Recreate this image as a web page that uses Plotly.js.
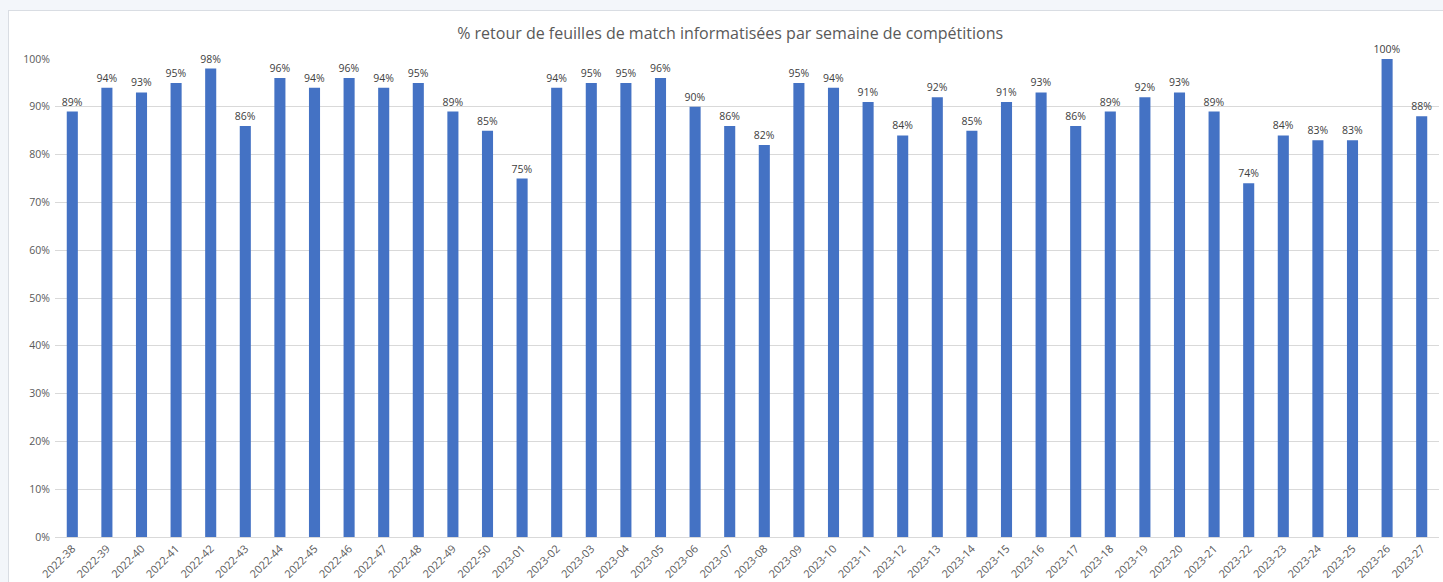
<!DOCTYPE html>
<html>
<head>
<meta charset="utf-8">
<script src="https://cdn.plot.ly/plotly-3.0.1.min.js"></script>
<style>
  html, body { margin: 0; padding: 0; background: #f3f6fa; }
  #frame { position: absolute; left: 8px; top: 10px; width: 1435px; height: 572px;
           background: #fff; border-top: 1px solid #d9dde3; border-left: 1px solid #d9dde3; box-sizing: border-box; }
  #chart { position: absolute; left: 0; top: 0; width: 1443px; height: 582px; }
</style>
</head>
<body>
<div id="frame"></div>
<div id="chart"></div>
<script>
// semaines de compétitions
let weeks2022 = ['2022-38','2022-39','2022-40','2022-41','2022-42','2022-43','2022-44',
  '2022-45','2022-46','2022-47','2022-48','2022-49','2022-50'];
let weeks2023 = ['2023-01','2023-02','2023-03','2023-04','2023-05','2023-06','2023-07',
  '2023-08','2023-09','2023-10','2023-11','2023-12','2023-13','2023-14','2023-15','2023-16',
  '2023-17','2023-18','2023-19','2023-20','2023-21','2023-22','2023-23','2023-24','2023-25',
  '2023-26','2023-27'];
let pct2022 = [89, 94, 93, 95, 98, 86, 96, 94, 96, 94, 95, 89, 85];
let pct2023 = [75, 94, 95, 95, 96, 90, 86, 82, 95, 94, 91, 84, 92, 85, 91, 93, 86, 89, 92,
  93, 89, 74, 84, 83, 83, 100, 88];

let weeks = weeks2022.concat(weeks2023);
let pct = pct2022.concat(pct2023);

let trace = {
  type: 'bar',
  x: weeks,
  y: pct,
  marker: { color: '#4472c4' },
  texttemplate: '%{y}',  // axis ticksuffix already adds the %
  textposition: 'outside',
  constraintext: 'none',
  cliponaxis: false,
  textfont: { family: 'Open Sans', size: 10.5, color: '#404040' },
  hoverinfo: 'x+y'
};

let layout = {
  width: 1443,
  height: 582,
  margin: { l: 55, r: 4, t: 59, b: 45 },
  paper_bgcolor: 'rgba(0,0,0,0)',
  plot_bgcolor: 'rgba(0,0,0,0)',
  bargap: 0.68,
  showlegend: false,
  title: {
    text: '% retour de feuilles de match informatisées par semaine de compétitions',
    font: { family: 'Open Sans', size: 16, color: '#595959' },
    x: 0.506, xanchor: 'center', y: 0.943, yanchor: 'middle'
  },
  xaxis: {
    type: 'category',
    tickangle: -45,
    tickfont: { family: 'Open Sans', size: 11, color: '#595959' },
    showgrid: false,
    showline: true,
    linecolor: '#d9d9d9',
    ticks: ''
  },
  yaxis: {
    range: [0, 100],
    dtick: 10,
    ticksuffix: '%',
    tickfont: { family: 'Open Sans', size: 10.5, color: '#595959' },
    gridcolor: '#d9d9d9',
    zeroline: false,
    ticks: '',
    ticklabelstandoff: 4
  }
};

Plotly.newPlot(document.getElementById('chart'), [trace], layout, { displayModeBar: false });
</script>
</body>
</html>
